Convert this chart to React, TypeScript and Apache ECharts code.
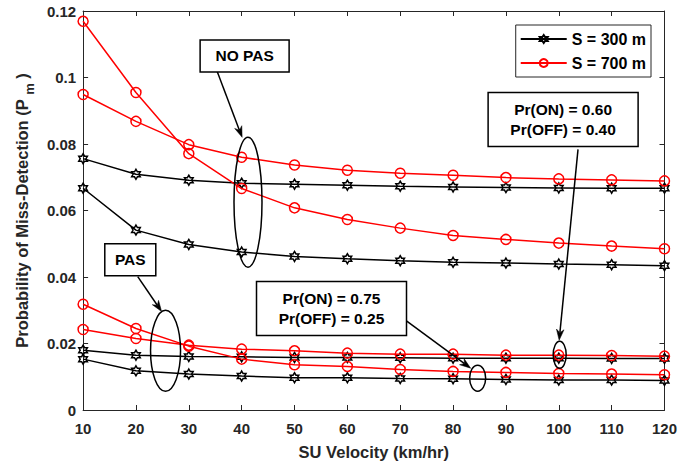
import React, { useEffect, useRef } from "react";
import * as echarts from "echarts";

const velocities = [10, 20, 30, 40, 50, 60, 70, 80, 90, 100, 110, 120];

// NO PAS curves
const noPasS300Upper = [0.0756, 0.0709, 0.0691, 0.0682, 0.0679, 0.0676, 0.0673, 0.0671, 0.0669, 0.0668, 0.0667, 0.0667];
const noPasS300Lower = [0.0667, 0.0541, 0.0498, 0.0475, 0.0462, 0.0455, 0.0449, 0.0444, 0.0442, 0.0439, 0.0437, 0.0434];
const noPasS700Upper = [0.0949, 0.0868, 0.0798, 0.076, 0.0737, 0.0721, 0.0712, 0.0706, 0.0699, 0.0695, 0.0692, 0.0689];
const noPasS700Lower = [0.1169, 0.0955, 0.0771, 0.0666, 0.0608, 0.0573, 0.0547, 0.0525, 0.0513, 0.0502, 0.0493, 0.0485];

// PAS curves
const pasS700Steep = [0.0318, 0.0245, 0.0192, 0.0153, 0.0136, 0.0131, 0.0122, 0.0116, 0.0113, 0.011, 0.0108, 0.0106];
const pasS700Flat = [0.0242, 0.0215, 0.0195, 0.0183, 0.0178, 0.0171, 0.0168, 0.0168, 0.0165, 0.0165, 0.0164, 0.0162];
const pasS300Upper = [0.018, 0.0165, 0.0161, 0.016, 0.0158, 0.0158, 0.0157, 0.0156, 0.0156, 0.0156, 0.0155, 0.0155];
const pasS300Lower = [0.0153, 0.0118, 0.0108, 0.0102, 0.0097, 0.0097, 0.0095, 0.0094, 0.0092, 0.009, 0.009, 0.0089];

const legendNames = ["S = 300 m", "S = 700 m"];
const xTitle = "SU Velocity (km/hr)";
const yTitle = "Probability of Miss-Detection (P {sub|m} )";

const HEXAGRAM =
  "path://M0,-1L0.2887,-0.5L0.866,-0.5L0.5774,0L0.866,0.5L0.2887,0.5L0,1L-0.2887,0.5L-0.866,0.5L-0.5774,0L-0.866,-0.5L-0.2887,-0.5Z";

const FONT = "'Liberation Sans', Arial, Helvetica, sans-serif";
const AX = "#262626";

function makeSeries(name: string, values: number[], isRed: boolean) {
  const color = isRed ? "#ff0000" : "#000000";
  return {
    name,
    type: "line",
    data: velocities.map((v, i) => [v, values[i]]),
    symbol: isRed ? "circle" : HEXAGRAM,
    symbolKeepAspect: true,
    symbolSize: 10,
    showSymbol: true,
    lineStyle: { color, width: 1.5 },
    itemStyle: { color: "rgba(0,0,0,0)", borderColor: color, borderWidth: 1.5 },
    emphasis: { disabled: true },
    z: isRed ? 3 : 2,
  };
}

export default function App() {
  const ref = useRef<HTMLDivElement>(null);
  useEffect(() => {
    const chart = echarts.init(ref.current!, null, { renderer: "svg" });
    const axisCommon = {
      type: "value",
      axisLine: { show: true, onZero: false, lineStyle: { color: AX, width: 1 } },
      axisTick: { show: true, inside: true, length: 5, lineStyle: { color: AX, width: 1 } },
      splitLine: { show: false },
    };
    const option: any = {
      animation: false,
      backgroundColor: "#ffffff",
      grid: { left: 80, right: 15, top: 11, bottom: 53, containLabel: false },
      legend: {
        data: legendNames,
        orient: "vertical",
        right: 29,
        top: 25,
        backgroundColor: "#ffffff",
        borderColor: AX,
        borderWidth: 1,
        borderRadius: 0,
        padding: [6, 5, 6, 4],
        itemWidth: 46,
        itemHeight: 10,
        itemGap: 8,
        textStyle: { fontFamily: FONT, fontWeight: "bold", fontSize: 16, color: "#000" },
      },
      xAxis: [
        {
          ...axisCommon,
          min: 10,
          max: 120,
          interval: 10,
          position: "bottom",
          name: xTitle,
          nameLocation: "middle",
          nameGap: 33,
          nameTextStyle: { fontFamily: FONT, fontWeight: "bold", fontSize: 16.5, color: AX },
          axisLabel: { fontFamily: FONT, fontWeight: "bold", fontSize: 15, color: AX, margin: 11 },
        },
        {
          ...axisCommon,
          min: 10,
          max: 120,
          interval: 10,
          position: "top",
          axisLabel: { show: false },
        },
      ],
      yAxis: [
        {
          ...axisCommon,
          min: 0,
          max: 0.12,
          interval: 0.02,
          position: "left",
          name: yTitle,
          nameLocation: "middle",
          nameGap: 44,
          nameRotate: 90,
          nameTextStyle: {
            fontFamily: FONT,
            fontWeight: "bold",
            fontSize: 16.5,
            lineHeight: 28,
            color: AX,
            rich: {
              sub: {
                fontFamily: FONT,
                fontWeight: "bold",
                fontSize: 13,
                lineHeight: 14,
                verticalAlign: "bottom",
                color: AX,
              },
            },
          },
          axisLabel: {
            fontFamily: FONT,
            fontWeight: "bold",
            fontSize: 15,
            color: AX,
            margin: 7,
            formatter: (v: number) => String(parseFloat(v.toFixed(2))),
          },
        },
        {
          ...axisCommon,
          min: 0,
          max: 0.12,
          interval: 0.02,
          position: "right",
          axisLabel: { show: false },
        },
      ],
      series: [
        makeSeries(legendNames[0], noPasS300Upper, false),
        makeSeries(legendNames[1], noPasS700Upper, true),
        makeSeries(legendNames[0], noPasS300Lower, false),
        makeSeries(legendNames[1], noPasS700Lower, true),
        makeSeries(legendNames[0], pasS300Upper, false),
        makeSeries(legendNames[1], pasS700Flat, true),
        makeSeries(legendNames[0], pasS300Lower, false),
        makeSeries(legendNames[1], pasS700Steep, true),
      ],
    };
    chart.setOption(option);

    const px = (p: number[]) => chart.convertToPixel({ xAxisIndex: 0, yAxisIndex: 0 }, p) as number[];

    const boxes = [
      { lines: ["NO PAS"], at: [40.56, 0.1065], w: 89, h: 32 },
      { lines: ["PAS"], at: [18.93, 0.0452], w: 51, h: 32 },
      { lines: ["Pr(ON) = 0.60", "Pr(OFF) = 0.40"], at: [100.82, 0.0874], w: 150, h: 54 },
      { lines: ["Pr(ON) = 0.75", "Pr(OFF) = 0.25"], at: [57.0, 0.0305], w: 150, h: 54 },
    ];
    const ellipses = [
      { at: [41.2, 0.0625], rx: 14, ry: 65 },
      { at: [25.6, 0.0178], rx: 15, ry: 40.5 },
      { at: [84.65, 0.00958], rx: 8, ry: 13 },
      { at: [100.17, 0.0166], rx: 6.5, ry: 13.5 },
    ];
    const arrows = [
      { from: [35.39, 0.1017], to: [40.09, 0.082] },
      { from: [20.34, 0.0401], to: [24.86, 0.0296] },
      { from: [71.11, 0.0269], to: [83.33, 0.01257] },
      { from: [103.64, 0.0784], to: [100.07, 0.02095] },
    ];

    const graphics: any[] = [];
    ellipses.forEach((e) => {
      const c = px(e.at);
      graphics.push({
        type: "ellipse",
        z: 100,
        shape: { cx: c[0], cy: c[1], rx: e.rx, ry: e.ry },
        style: { fill: "none", stroke: "#000", lineWidth: 1.5 },
        silent: true,
      });
    });
    arrows.forEach((a) => {
      const f = px(a.from);
      const t = px(a.to);
      const dx = t[0] - f[0];
      const dy = t[1] - f[1];
      const len = Math.sqrt(dx * dx + dy * dy);
      const ux = dx / len;
      const uy = dy / len;
      const nx = -uy;
      const ny = ux;
      const hl = 11;
      const hw = 3.8;
      const back = [t[0] - ux * hl, t[1] - uy * hl];
      const notch = [t[0] - ux * hl * 0.7, t[1] - uy * hl * 0.7];
      graphics.push({
        type: "line",
        z: 100,
        shape: { x1: f[0], y1: f[1], x2: notch[0], y2: notch[1] },
        style: { stroke: "#000", lineWidth: 1.5 },
        silent: true,
      });
      graphics.push({
        type: "polygon",
        z: 100,
        shape: {
          points: [
            [t[0], t[1]],
            [back[0] + nx * hw, back[1] + ny * hw],
            [notch[0], notch[1]],
            [back[0] - nx * hw, back[1] - ny * hw],
          ],
        },
        style: { fill: "#000", stroke: "#000", lineWidth: 0.5 },
        silent: true,
      });
    });
    boxes.forEach((b) => {
      const c = px(b.at);
      graphics.push({
        type: "rect",
        z: 101,
        shape: { x: c[0] - b.w / 2, y: c[1] - b.h / 2, width: b.w, height: b.h },
        style: { fill: "#ffffff", stroke: "#000", lineWidth: 1.5 },
        silent: true,
      });
      graphics.push({
        type: "text",
        z: 102,
        x: c[0],
        y: c[1],
        style: {
          text: b.lines.join("\n"),
          fontFamily: FONT,
          fontWeight: "bold",
          fontSize: 15.5,
          lineHeight: 20.5,
          fill: "#000",
          align: "center",
          verticalAlign: "middle",
        },
        silent: true,
      });
    });
    chart.setOption({ graphic: graphics });
    return () => chart.dispose();
  }, []);
  return <div ref={ref} style={{ position: "fixed", left: 0, top: 0, width: 680, height: 465 }} />;
}
